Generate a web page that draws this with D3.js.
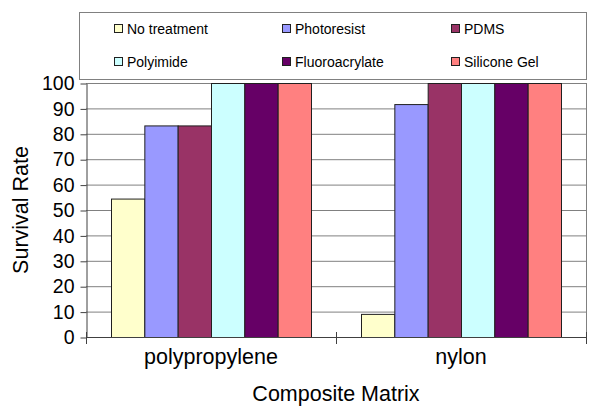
<!DOCTYPE html>
<html>
<head>
<meta charset="utf-8">
<script src="https://cdn.jsdelivr.net/npm/d3@7"></script>
<style>
  html, body { margin: 0; padding: 0; background: #fff; }
  svg { display: block; font-family: Arial, "Liberation Sans", sans-serif; }
</style>
</head>
<body>
<svg id="chart" width="604" height="416"></svg>
<script>
const categories = ["polypropylene", "nylon"];
const seriesNames = ["No treatment", "Photoresist", "PDMS", "Polyimide", "Fluoroacrylate", "Silicone Gel"];
const seriesColors = ["#FFFFCC", "#9999FF", "#993366", "#CCFFFF", "#660066", "#FF8080"];
const noTreatment = [54.5, 9.1];
const photoresist = [83.3, 91.7];
const pdms = [83.3, 100];
const polyimide = [100, 100];
const fluoroacrylate = [100, 100];
const siliconeGel = [100, 100];
const yTicks = [0, 10, 20, 30, 40, 50, 60, 70, 80, 90, 100];
const yTitle = "Survival Rate";
const xTitle = "Composite Matrix";

const seriesValues = [noTreatment, photoresist, pdms, polyimide, fluoroacrylate, siliconeGel];

const svg = d3.select("#chart");
const plot = { left: 86, right: 586, top: 83, bottom: 337 };

const x0 = d3.scaleBand().domain(categories).range([plot.left, plot.right]).paddingInner(0).paddingOuter(0);
const x1 = d3.scaleBand().domain(seriesNames).range([0, x0.bandwidth()]).paddingInner(0).paddingOuter(0.75);
const y = d3.scaleLinear().domain([0, 100]).range([plot.bottom, plot.top]);

// gridlines
svg.append("g").selectAll("line").data(yTicks.filter(t => t > 0)).join("line")
  .attr("x1", plot.left).attr("x2", plot.right)
  .attr("y1", d => y(d) + 0.5).attr("y2", d => y(d) + 0.5)
  .attr("stroke", "#808080").attr("stroke-width", 1);

// plot border (right)
svg.append("line").attr("x1", plot.right + 0.5).attr("x2", plot.right + 0.5)
  .attr("y1", plot.top).attr("y2", plot.bottom).attr("stroke", "#808080");

// bars
const groups = svg.append("g").selectAll("g").data(categories).join("g")
  .attr("transform", d => `translate(${x0(d)},0)`);
groups.selectAll("rect").data((c, ci) => seriesNames.map((s, si) => ({ s, si, v: seriesValues[si][ci] })))
  .join("rect")
  .attr("x", d => x1(d.s) + 0.5)
  .attr("width", x1.bandwidth())
  .attr("y", d => y(d.v) + 0.5)
  .attr("height", d => y(0) - y(d.v))
  .attr("fill", d => seriesColors[d.si])
  .attr("stroke", "#202020").attr("stroke-width", 1);

// y axis
const yAxis = svg.append("g").attr("transform", `translate(${plot.left + 0.5},0.5)`)
  .call(d3.axisLeft(y).tickValues(yTicks).tickSize(6).tickPadding(6).tickSizeOuter(0));
yAxis.select(".domain").attr("stroke", "#404040");
yAxis.selectAll(".tick line").attr("stroke", "#404040");
yAxis.selectAll("text").attr("font-size", 19.5).attr("fill", "#000")
  .attr("font-family", "Arial, 'Liberation Sans', sans-serif");

// x axis line
svg.append("line").attr("x1", plot.left).attr("x2", plot.right + 1)
  .attr("y1", plot.bottom + 0.5).attr("y2", plot.bottom + 0.5).attr("stroke", "#404040");

// category boundary ticks
const bounds = [plot.left, ...categories.slice(1).map(c => x0(c)), plot.right];
svg.append("g").selectAll("line").data(bounds).join("line")
  .attr("x1", d => d + 0.5).attr("x2", d => d + 0.5)
  .attr("y1", plot.bottom - 5).attr("y2", plot.bottom + 7)
  .attr("stroke", "#404040");

// category labels
svg.append("g").selectAll("text").data(categories).join("text")
  .attr("x", d => x0(d) + x0.bandwidth() / 2)
  .attr("y", 364)
  .attr("text-anchor", "middle").attr("font-size", 21.5).text(d => d);

// axis titles
svg.append("text").attr("x", (plot.left + plot.right) / 2).attr("y", 401)
  .attr("text-anchor", "middle").attr("font-size", 21.5).text(xTitle);
svg.append("text").attr("transform", `translate(28,210) rotate(-90)`)
  .attr("text-anchor", "middle").attr("font-size", 21.5).text(yTitle);

// legend
svg.append("rect").attr("x", 79.5).attr("y", 12.5).attr("width", 507).attr("height", 67)
  .attr("fill", "#fff").attr("stroke", "#808080");
const legendCols = [114, 282, 451];
const legendRows = [29, 62];
const leg = svg.append("g").selectAll("g").data(seriesNames).join("g")
  .attr("transform", (d, i) => `translate(${legendCols[i % 3]},${legendRows[Math.floor(i / 3)]})`);
leg.append("rect").attr("x", 0.5).attr("y", -4.5).attr("width", 8).attr("height", 8)
  .attr("fill", (d, i) => seriesColors[i]).attr("stroke", "#202020");
leg.append("text").attr("x", 13).attr("y", 5).attr("font-size", 14).text(d => d);
</script>
</body>
</html>
